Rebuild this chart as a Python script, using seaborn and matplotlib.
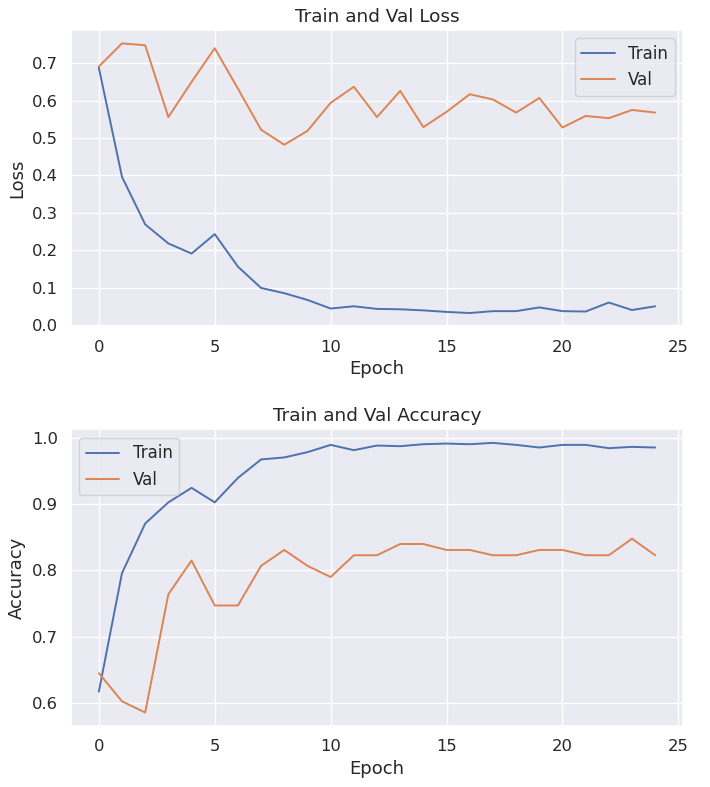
import numpy as np
import pandas as pd
import matplotlib
matplotlib.use('Agg')
import matplotlib.pyplot as plt
import seaborn as sns

# values
epochs = list(range(25))

train_loss = [0.688, 0.396, 0.269, 0.218, 0.191, 0.243, 0.156, 0.099, 0.085, 0.067,
              0.044, 0.050, 0.043, 0.042, 0.039, 0.035, 0.032, 0.037, 0.037, 0.047,
              0.037, 0.036, 0.060, 0.040, 0.050]
val_loss = [0.691, 0.753, 0.748, 0.556, 0.650, 0.740, 0.632, 0.522, 0.482, 0.519,
            0.594, 0.637, 0.556, 0.626, 0.529, 0.570, 0.617, 0.603, 0.568, 0.607,
            0.528, 0.559, 0.553, 0.575, 0.568]

train_acc = [0.6165, 0.796, 0.871, 0.903, 0.925, 0.903, 0.940, 0.968, 0.971, 0.979,
             0.990, 0.982, 0.989, 0.988, 0.991, 0.992, 0.991, 0.993, 0.990, 0.986,
             0.990, 0.990, 0.985, 0.987, 0.986]
val_acc = [0.6446, 0.602, 0.585, 0.764, 0.815, 0.747, 0.747, 0.807, 0.831, 0.807,
           0.790, 0.823, 0.823, 0.840, 0.840, 0.831, 0.831, 0.823, 0.823, 0.831,
           0.831, 0.823, 0.823, 0.848, 0.823]

sns.set_theme(style='darkgrid', palette='deep')

fig, axes = plt.subplots(2, 1, figsize=(7.1, 7.87), dpi=100)
fig.subplots_adjust(left=0.1, right=0.962, top=0.962, bottom=0.0775, hspace=0.347)

panels = [
    (axes[0], train_loss, val_loss, 'Train and Val Loss', 'Loss', 'upper right'),
    (axes[1], train_acc, val_acc, 'Train and Val Accuracy', 'Accuracy', 'upper left'),
]

for ax, tr, va, title, ylab, loc in panels:
    sns.lineplot(x=epochs, y=tr, label='Train', ax=ax, linewidth=1.4)
    sns.lineplot(x=epochs, y=va, label='Val', ax=ax, linewidth=1.4)
    ax.set_title(title, fontsize=13.3)
    ax.set_xlabel('Epoch', fontsize=13)
    ax.set_ylabel(ylab, fontsize=13)
    ax.tick_params(labelsize=11.8)
    ax.set_xticks([0, 5, 10, 15, 20, 25])
    ax.legend(loc=loc, fontsize=12)

axes[0].set_yticks(np.round(np.arange(0, 0.75, 0.1), 1))
axes[1].set_yticks(np.round(np.arange(0.6, 1.05, 0.1), 1))

plt.savefig('out.png', dpi=100)
